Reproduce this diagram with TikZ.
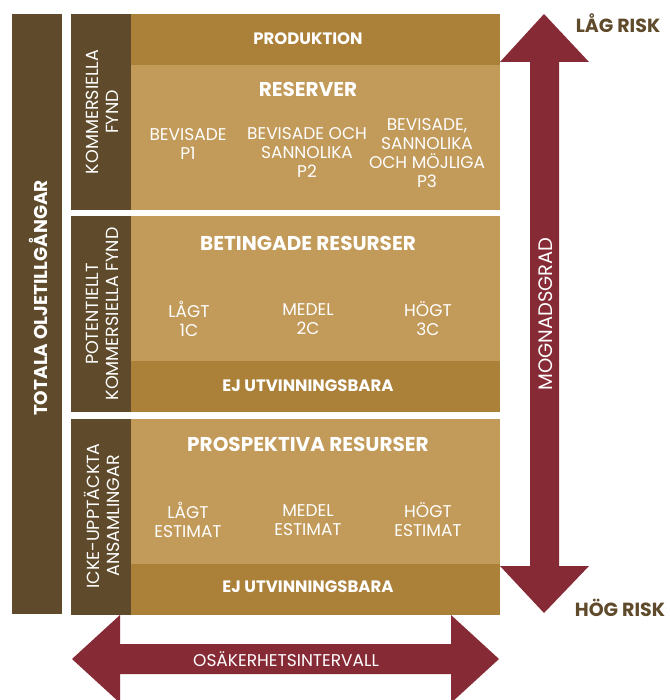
\documentclass[tikz,border=0pt]{standalone}
\usepackage{fontspec}
\setmainfont{Poppins}
\definecolor{darkbrown}{HTML}{5F4B2B}
\definecolor{bandgold}{HTML}{AB8139}
\definecolor{lightgold}{HTML}{C29A5A}
\definecolor{riskred}{HTML}{862B36}
\tikzset{
  plaintext/.style={text=white, align=center, inner sep=0.75pt, font=\fontsize{17}{19}\selectfont},
  headtext/.style={text=white, align=center, inner sep=0.75pt, font=\bfseries\fontsize{20}{22}\selectfont},
  bandtext/.style={text=white, align=center, inner sep=0.75pt, font=\bfseries\fontsize{16.5}{19}\selectfont},
  risktext/.style={text=darkbrown, inner sep=0.75pt, font=\bfseries\fontsize{19}{22}\selectfont},
  sidetext/.style={text=white, align=center, inner sep=0.75pt, rotate=90, font=\fontsize{17.5}{20}\selectfont},
}

\begin{document}
\begin{tikzpicture}[x=1pt,y=1pt,yscale=-1,xscale=1]
\useasboundingbox (0,0) rectangle (669,700);
\fill[white] (0,0) rectangle (669,700);

%Shape: Rectangle [total]
\fill[darkbrown] (12,14) rectangle (62,614);
%Shape: Rectangle [row labels]
\fill[darkbrown] (71,14) rectangle (131,210);
\fill[darkbrown] (71,216) rectangle (131,412);
\fill[darkbrown] (71,419) rectangle (131,615);
%Shape: Rectangle [row 1]
\fill[lightgold] (131,14) rectangle (500,210);
\fill[bandgold] (131,14) rectangle (500,65);
%Shape: Rectangle [row 2]
\fill[lightgold] (131,216) rectangle (500,412);
\fill[bandgold] (131,361) rectangle (500,412);
%Shape: Rectangle [row 3]
\fill[lightgold] (131,419) rectangle (500,615);
\fill[bandgold] (131,564) rectangle (500,615);

%Shape: Double Arrow [vertical]
\fill[riskred] (544,14) -- (589,62) -- (559,62) -- (559,566) -- (589,566) -- (544,613)
  -- (500,566) -- (530,566) -- (530,62) -- (500,62) -- cycle;
%Shape: Double Arrow [horizontal]
\fill[riskred] (72,659) -- (120,615) -- (120,644) -- (451,644) -- (451,615) -- (499,659)
  -- (451,703) -- (451,674) -- (120,674) -- (120,703) -- cycle;

% Text Node
\node (total) [sidetext, font=\bfseries\fontsize{18.5}{22}\selectfont] at (38,298) {TOTALA OLJETILLGÅNGAR};
% Text Node
\node (kommersiella) [sidetext] at (102,112) {KOMMERSIELLA\\FYND};
% Text Node
\node (potentiellt) [sidetext] at (102,314) {POTENTIELLT\\KOMMERSIELLA FYND};
% Text Node
\node (ickeupptackta) [sidetext] at (102,516) {ICKE-UPPTÄCKTA\\ANSAMLINGAR};

% Text Node
\node (produktion) [bandtext] at (308,39) {PRODUKTION};
% Text Node
\node (reserver) [headtext] at (308,89) {RESERVER};
% Text Node
\node (p1) [plaintext] at (188,144) {BEVISADE\\P1};
% Text Node
\node (p2) [plaintext] at (307,153) {BEVISADE OCH\\SANNOLIKA\\P2};
% Text Node
\node (p3) [plaintext] at (427,153) {BEVISADE,\\SANNOLIKA\\OCH MÖJLIGA\\P3};

% Text Node
\node (betingade) [headtext] at (308,243) {BETINGADE RESURSER};
% Text Node
\node (c1) [plaintext] at (189,319) {LÅGT\\1C};
% Text Node
\node (c2) [plaintext] at (308,319) {MEDEL\\2C};
% Text Node
\node (c3) [plaintext] at (428,319) {HÖGT\\3C};
% Text Node
\node (ejutv1) [bandtext] at (308,386) {EJ UTVINNINGSBARA};

% Text Node
\node (prospektiva) [headtext] at (308,444) {PROSPEKTIVA RESURSER};
% Text Node
\node (lagt) [plaintext] at (188,520) {LÅGT\\ESTIMAT};
% Text Node
\node (medel) [plaintext] at (308,520) {MEDEL\\ESTIMAT};
% Text Node
\node (hogt) [plaintext] at (428,520) {HÖGT\\ESTIMAT};
% Text Node
\node (ejutv2) [bandtext] at (308,587) {EJ UTVINNINGSBARA};

% Text Node
\node (mognadsgrad) [sidetext, font=\fontsize{19.5}{22}\selectfont] at (546,314) {MOGNADSGRAD};
% Text Node
\node (osakerhet) [plaintext] at (286,659) {OSÄKERHETSINTERVALL};
% Text Node
\node (lagrisk) [risktext] at (618,23) {LÅG RISK};
% Text Node
\node (hogrisk) [risktext] at (620,608) {HÖG RISK};

\end{tikzpicture}
\end{document}
